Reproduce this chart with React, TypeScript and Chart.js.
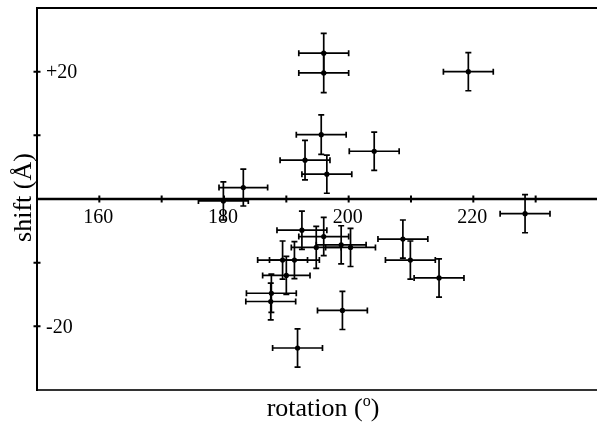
import React, { useEffect, useRef } from "react";
import { Chart, registerables } from "chart.js";

Chart.register(...registerables);

// Data
const rotation = [196.0, 196.0, 219.2, 195.6, 193.0, 196.5, 204.1, 183.1, 179.9, 228.3, 192.5, 196.0, 194.8, 198.8, 200.3, 191.3, 189.4, 190.0, 187.6, 187.5, 199.0, 191.8, 208.7, 209.9, 214.5];
const shift = [22.9, 19.8, 20.0, 10.1, 6.1, 3.9, 7.5, 1.8, -0.3, -2.3, -4.9, -5.9, -7.6, -7.2, -7.6, -9.6, -9.6, -12.0, -14.8, -16.1, -17.5, -23.4, -6.3, -9.6, -12.4];
const rotationErr = [4.0, 4.0, 4.0, 4.0, 4.0, 4.0, 4.0, 3.9, 4.0, 4.0, 4.0, 4.0, 4.0, 4.0, 4.0, 4.0, 4.0, 3.8, 4.0, 4.0, 4.0, 4.0, 4.0, 4.0, 4.0];
const shiftErr = [3.1, 3.1, 3.0, 3.1, 3.1, 3.0, 3.0, 2.9, 3.0, 3.0, 3.0, 3.0, 3.3, 3.0, 3.0, 2.9, 3.0, 3.0, 3.0, 2.9, 3.0, 3.0, 3.0, 3.0, 3.0];

const xMin = 150;
const xMax = 239.2;
const yMin = -30;
const yMax = 30;
const xTicks = [160, 170, 180, 190, 200, 210, 220, 230];
const xTickLabels = ["160", "", "180", "", "200", "", "220", ""];
const yTicks = [20, 10, -10, -20];
const yTickLabels = ["+20", "", "", "-20"];
const xTitle = "rotation (";
const xTitleSup = "o";
const xTitleEnd = ")";
const yTitle = "shift (Å)";

const FONT = '"Liberation Serif", "Times New Roman", serif';

const errorBarPlugin = {
  id: "errorBars",
  beforeDatasetsDraw(chart: any) {
    const ctx = chart.ctx;
    const xs = chart.scales.x;
    const ys = chart.scales.y;
    ctx.save();
    ctx.strokeStyle = "#000";
    ctx.lineWidth = 1.7;
    const cap = 3;
    for (let i = 0; i < rotation.length; i++) {
      const cx = xs.getPixelForValue(rotation[i]);
      const cy = ys.getPixelForValue(shift[i]);
      const x0 = xs.getPixelForValue(rotation[i] - rotationErr[i]);
      const x1 = xs.getPixelForValue(rotation[i] + rotationErr[i]);
      const y0 = ys.getPixelForValue(shift[i] + shiftErr[i]);
      const y1 = ys.getPixelForValue(shift[i] - shiftErr[i]);
      ctx.beginPath();
      ctx.moveTo(x0, cy);
      ctx.lineTo(x1, cy);
      ctx.moveTo(x0, cy - cap);
      ctx.lineTo(x0, cy + cap);
      ctx.moveTo(x1, cy - cap);
      ctx.lineTo(x1, cy + cap);
      ctx.moveTo(cx, y0);
      ctx.lineTo(cx, y1);
      ctx.moveTo(cx - cap, y0);
      ctx.lineTo(cx + cap, y0);
      ctx.moveTo(cx - cap, y1);
      ctx.lineTo(cx + cap, y1);
      ctx.stroke();
    }
    ctx.restore();
  },
};

const axesPlugin = {
  id: "customAxes",
  afterDraw(chart: any) {
    const ctx = chart.ctx;
    const xs = chart.scales.x;
    const ys = chart.scales.y;
    const area = chart.chartArea;
    const zeroY = ys.getPixelForValue(0);
    const leftX = xs.getPixelForValue(xMin);
    ctx.save();
    ctx.strokeStyle = "#000";
    // top border
    ctx.lineWidth = 2;
    ctx.beginPath();
    ctx.moveTo(leftX, ys.getPixelForValue(yMax));
    ctx.lineTo(chart.width, ys.getPixelForValue(yMax));
    ctx.stroke();
    // bottom border
    ctx.strokeStyle = "#333";
    ctx.lineWidth = 2;
    ctx.beginPath();
    ctx.moveTo(leftX, ys.getPixelForValue(yMin));
    ctx.lineTo(chart.width, ys.getPixelForValue(yMin));
    ctx.stroke();
    ctx.strokeStyle = "#000";
    // left axis
    ctx.lineWidth = 2;
    ctx.beginPath();
    ctx.moveTo(leftX, ys.getPixelForValue(yMax) - 1);
    ctx.lineTo(leftX, ys.getPixelForValue(yMin) + 1);
    ctx.stroke();
    // zero line
    ctx.lineWidth = 2.5;
    ctx.beginPath();
    ctx.moveTo(leftX, zeroY);
    ctx.lineTo(chart.width, zeroY);
    ctx.stroke();
    // x ticks on zero line
    ctx.lineWidth = 2;
    ctx.beginPath();
    for (const t of xTicks) {
      const px = xs.getPixelForValue(t);
      ctx.moveTo(px, zeroY - 3.5);
      ctx.lineTo(px, zeroY + 3.5);
    }
    // y ticks on left axis
    for (const t of yTicks) {
      const py = ys.getPixelForValue(t);
      ctx.moveTo(leftX - 3.5, py);
      ctx.lineTo(leftX + 3.5, py);
    }
    ctx.stroke();

    ctx.fillStyle = "#000";
    ctx.font = `20px ${FONT}`;
    ctx.textAlign = "center";
    ctx.textBaseline = "alphabetic";
    xTicks.forEach((t, i) => {
      if (!xTickLabels[i]) return;
      ctx.fillText(xTickLabels[i], xs.getPixelForValue(t) - 1, zeroY + 24);
    });
    ctx.textAlign = "left";
    ctx.textBaseline = "middle";
    yTicks.forEach((t, i) => {
      if (!yTickLabels[i]) return;
      ctx.fillText(yTickLabels[i], leftX + 9, ys.getPixelForValue(t) + 1);
    });

    // x title
    ctx.textBaseline = "alphabetic";
    ctx.font = `26px ${FONT}`;
    const w1 = ctx.measureText(xTitle).width;
    const w3 = ctx.measureText(xTitleEnd).width;
    ctx.font = `16px ${FONT}`;
    const w2 = ctx.measureText(xTitleSup).width;
    const total = w1 + w2 + w3;
    const cx = (area.left + chart.width) / 2 + 6;
    let sx = cx - total / 2;
    const base = 416;
    ctx.font = `26px ${FONT}`;
    ctx.fillText(xTitle, sx, base);
    sx += w1;
    ctx.font = `16px ${FONT}`;
    ctx.fillText(xTitleSup, sx, base - 10);
    sx += w2;
    ctx.font = `26px ${FONT}`;
    ctx.fillText(xTitleEnd, sx, base);

    // y title
    ctx.save();
    ctx.translate(31, 197.5);
    ctx.rotate(-Math.PI / 2);
    ctx.textAlign = "center";
    ctx.fillText(yTitle, 0, 0);
    ctx.restore();

    ctx.restore();
  },
};

export default function App() {
  const ref = useRef<HTMLCanvasElement | null>(null);
  useEffect(() => {
    if (!ref.current) return;
    const points = rotation.map((x, i) => ({ x, y: shift[i] }));
    const chart = new Chart(ref.current, {
      type: "scatter",
      data: {
        datasets: [
          {
            data: points,
            pointRadius: 2.6,
            pointBackgroundColor: "#000",
            pointBorderColor: "#000",
            pointBorderWidth: 0,
            showLine: false,
          },
        ],
      },
      options: {
        animation: false,
        responsive: false,
        devicePixelRatio: 1,
        layout: { padding: { left: 37, top: 8, right: 0, bottom: 32 } },
        scales: {
          x: { type: "linear", min: xMin, max: xMax, display: false },
          y: { type: "linear", min: yMin, max: yMax, display: false },
        },
        plugins: {
          legend: { display: false },
          tooltip: { enabled: false },
        },
      },
      plugins: [errorBarPlugin, axesPlugin],
    } as any);
    return () => chart.destroy();
  }, []);
  return (
    <div style={{ position: "fixed", left: 0, top: 0, width: 597, height: 422, background: "#fff" }}>
      <canvas ref={ref} width={597} height={422} />
    </div>
  );
}
